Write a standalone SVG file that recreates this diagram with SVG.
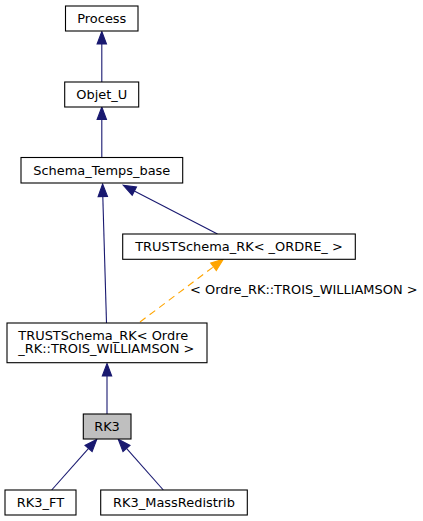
<svg xmlns="http://www.w3.org/2000/svg" width="423" height="521" viewBox="0 0 423 521">
<style>
.box{fill:#ffffff;stroke:#000000;stroke-width:1.1}
.cur{fill:#bfbfbf;stroke:#000000;stroke-width:1.1}
text{font-family:"DejaVu Sans",sans-serif;font-size:12.95px;fill:#000000}
.c{text-anchor:middle}
.e{fill:none;stroke:#191970;stroke-width:1.1}
.h{fill:#191970;stroke:#191970;stroke-width:1.1}
.d{fill:none;stroke:#ffa500;stroke-width:1.1;stroke-dasharray:7,5}
.dh{fill:#ffa500;stroke:#ffa500;stroke-width:1.1}
</style>
<rect width="423" height="521" fill="#ffffff"/>
<g id="connectors">
  <line class="e" x1="101.8" y1="82" x2="101.8" y2="44"/>
  <polygon class="h" points="101.8,31.5 106.5,44 97.1,44"/>
  <line class="e" x1="101.8" y1="157" x2="101.8" y2="119.5"/>
  <polygon class="h" points="101.8,107 106.5,119.5 97.1,119.5"/>
  <line class="e" x1="106.5" y1="323" x2="102.8" y2="196.5"/>
  <polygon class="h" points="102.6,184 107.5,196.4 98.1,196.6"/>
  <line class="e" x1="217.5" y1="234" x2="134.3" y2="191"/>
  <polygon class="h" points="123.3,185.3 136.5,186.9 132.2,195.2"/>
  <line class="d" x1="140" y1="322" x2="213.5" y2="266.8"/>
  <polygon class="dh" points="223.3,259.3 216.3,270.6 210.7,263.1"/>
  <text x="190" y="294.3">&lt; Ordre_RK::TROIS_WILLIAMSON &gt;</text>
  <line class="e" x1="107" y1="414" x2="107" y2="376"/>
  <polygon class="h" points="107,363.5 111.7,376 102.3,376"/>
  <line class="e" x1="51.7" y1="490" x2="88.6" y2="448.4"/>
  <polygon class="h" points="96.8,439.3 92.1,451.6 85,445.3"/>
  <line class="e" x1="163.3" y1="490" x2="126.5" y2="448.4"/>
  <polygon class="h" points="118.3,439.3 130,445.3 123,451.6"/>
</g>
<g id="node-process">
  <rect class="box" x="65.5" y="6" width="72.5" height="25"/>
  <text class="c" x="101.8" y="23.2">Process</text>
</g>
<g id="node-objet-u">
  <rect class="box" x="64.7" y="82" width="74" height="25"/>
  <text class="c" x="101.8" y="99.2">Objet_U</text>
</g>
<g id="node-schema-temps-base">
  <rect class="box" x="21" y="157.5" width="161.7" height="25.5"/>
  <text class="c" x="101.8" y="174.8">Schema_Temps_base</text>
</g>
<g id="node-trustschema-rk-ordre">
  <rect class="box" x="122.7" y="234" width="232.6" height="25.3"/>
  <text class="c" x="239" y="251.3">TRUSTSchema_RK&lt; _ORDRE_ &gt;</text>
</g>
<g id="node-trustschema-rk-williamson">
  <rect class="box" x="7" y="323" width="200" height="39.7"/>
  <text x="18.3" y="339.5">TRUSTSchema_RK&lt; Ordre</text>
  <text x="18.3" y="353.3">_RK::TROIS_WILLIAMSON &gt;</text>
</g>
<g id="node-rk3">
  <rect class="cur" x="83.3" y="414" width="47.7" height="25"/>
  <text class="c" x="107" y="431.2">RK3</text>
</g>
<g id="node-rk3-ft">
  <rect class="box" x="5" y="490" width="71" height="25"/>
  <text class="c" x="40.5" y="507.2">RK3_FT</text>
</g>
<g id="node-rk3-massredistrib">
  <rect class="box" x="100.7" y="490" width="146.6" height="25"/>
  <text class="c" x="174" y="507.2">RK3_MassRedistrib</text>
</g>
</svg>
